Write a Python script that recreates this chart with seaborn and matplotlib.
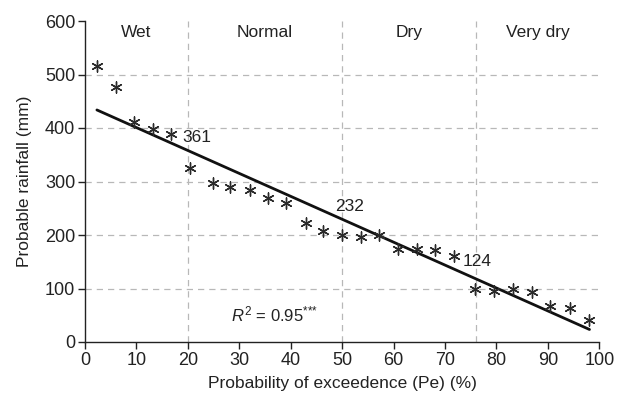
import numpy as np
import pandas as pd
import matplotlib
matplotlib.use("Agg")
import matplotlib.pyplot as plt
import seaborn as sns

sns.set_theme(style="ticks")
plt.rcParams['font.family'] = ['Liberation Sans', 'DejaVu Sans']
plt.rcParams['mathtext.fontset'] = 'custom'
plt.rcParams['mathtext.it'] = 'Liberation Sans:italic'
plt.rcParams['mathtext.rm'] = 'Liberation Sans'

# probability of exceedence (%) and probable rainfall (mm)
pe = [2.3, 6.0, 9.5, 13.2, 16.7, 20.4, 24.8, 28.1, 32.0, 35.5, 39.1, 43.0, 46.2,
      49.9, 53.6, 57.2, 60.8, 64.5, 68.1, 71.8, 75.9, 79.6, 83.3, 87.0, 90.5, 94.4, 98.1]
rain = [515, 477, 412, 399, 388, 325, 298, 290, 284, 270, 260, 223, 208,
        200, 196, 200, 174, 174, 172, 161, 99, 96, 100, 94, 68, 63, 42]

# class boundaries and labels
bounds = [20, 50, 76]
classes = ["Wet", "Normal", "Dry", "Very dry"]
class_x = [10, 35, 63, 88]

# values of the fitted line at the boundaries
marks = ["361", "232", "124"]
mark_xy = [(19.0, 383), (48.6, 253), (73.5, 150)]

df = pd.DataFrame({"pe": pe, "rain": rain})

fig, ax = plt.subplots(figsize=(6.21, 4), dpi=100)
fig.subplots_adjust(left=0.137, right=0.965, top=0.9475, bottom=0.145)

for y in [100, 200, 300, 400, 500]:
    ax.axhline(y, color="#b8b8b8", lw=0.9, ls=(0, (5, 4)), zorder=0)
for b in bounds:
    ax.axvline(b, color="#b8b8b8", lw=0.9, ls=(0, (5, 4)), zorder=0)

sns.regplot(data=df, x="pe", y="rain", scatter=False, ci=None, truncate=True,
            ax=ax, line_kws={"color": "#111111", "lw": 2})
sns.scatterplot(data=df, x="pe", y="rain", ax=ax, marker=(6, 2, 0), s=65,
                color="#2a2a2a", linewidth=1.0, edgecolor="#2a2a2a", zorder=3)

for t, (x, y) in zip(marks, mark_xy):
    ax.text(x, y, t, fontsize=12.5, va="center", ha="left", color="#222222")
for t, x in zip(classes, class_x):
    ax.text(x, 579, t, fontsize=12.5, va="center", ha="center", color="#222222")
ax.text(36.8, 52, r"$R^2$ = 0.95$^{{*}{*}{*}}$", fontsize=12, ha="center",
        va="center", color="#222222")

ax.set_xlim(0, 100)
ax.set_ylim(0, 600)
ax.set_xticks(range(0, 101, 10))
ax.set_yticks(range(0, 601, 100))
ax.tick_params(labelsize=13, length=5, width=1, pad=2, color="#222222",
               labelcolor="#222222")
ax.set_xlabel("Probability of exceedence (Pe) (%)", fontsize=12.5, color="#222222",
              labelpad=5)
ax.set_ylabel("Probable rainfall (mm)", fontsize=12.5, color="#222222", labelpad=9)
sns.despine(ax=ax)
for s in ["left", "bottom"]:
    ax.spines[s].set_color("#222222")
    ax.spines[s].set_linewidth(1)

fig.savefig("out.png", dpi=100)
